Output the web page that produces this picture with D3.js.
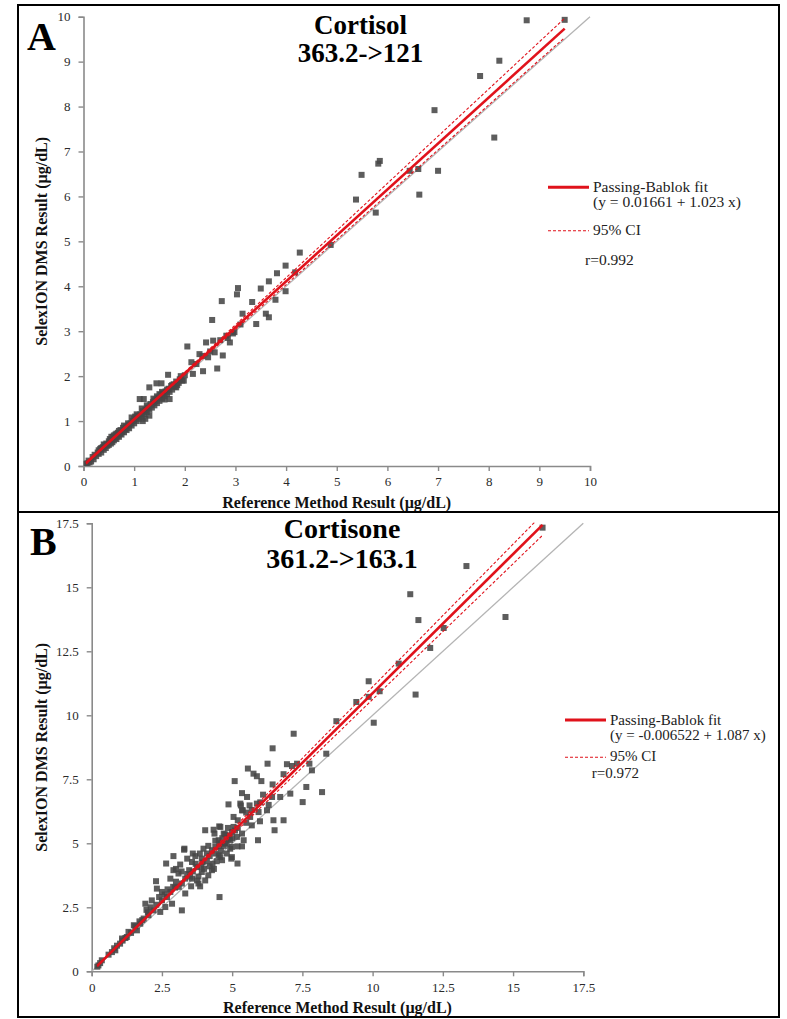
<!DOCTYPE html>
<html>
<head>
<meta charset="utf-8">
<script src="https://cdn.jsdelivr.net/npm/d3@7"></script>
<style>
  html, body { margin: 0; padding: 0; background: #fff; }
  svg { display: block; }
  text { font-family: "Liberation Serif", "Times New Roman", serif; }
</style>
</head>
<body>
<svg id="chart" width="787" height="1019"></svg>
<script>
// ---------- DATA ----------
const panelLetters = ["A", "B"];
const titlesA = ["Cortisol", "363.2->121"];
const titlesB = ["Cortisone", "361.2->163.1"];
const xAxisTitle = "Reference Method Result (µg/dL)";
const yAxisTitle = "SelexION DMS Result (µg/dL)";

const ticksA = [0, 1, 2, 3, 4, 5, 6, 7, 8, 9, 10];
const ticksB = [0, 2.5, 5, 7.5, 10, 12.5, 15, 17.5];

// Passing-Bablok fit and 95% CI: [intercept, slope]
const fitA = [0.01661, 1.023];
const ciUpperA = [-0.01, 1.05];
const ciLowerA = [0.035, 1.0];
const fitRangeA = [0.05, 9.5];
const identityRangeA = [0, 10];

const fitB = [-0.006522, 1.087];
const ciUpperB = [-0.04, 1.115];
const ciLowerB = [0.02, 1.06];
const fitRangeB = [0.2, 16.05];
const identityRangeB = [0, 17.5];

const legendA = ["Passing-Bablok fit", "(y = 0.01661 + 1.023 x)", "95% CI", "r=0.992"];
const legendB = ["Passing-Bablok fit", "(y = -0.006522 + 1.087 x)", "95% CI", "r=0.972"];

// Cortisol: [reference, SelexION]
const cortisolPoints = [
  [9.5,9.93],[8.75,9.92],[8.21,9.02],[7.83,8.68],[6.93,7.92],[8.11,7.31],[5.85,6.79],[5.82,6.73],
  [5.49,6.48],[6.44,6.57],[6.61,6.61],[7.0,6.57],[6.63,6.04],[5.38,5.93],[5.77,5.64],[4.88,4.92],
  [4.27,4.75],[3.99,4.46],[3.82,4.29],[4.18,4.31],[3.99,3.89],[3.05,3.96],[3.03,3.82],[2.73,3.67],
  [3.5,3.95],[3.33,3.65],[3.66,4.11],[3.79,3.7],[3.6,3.39],[3.66,3.31],[3.41,3.16],[3.14,3.39],
  [3.1,3.15],[2.54,3.25],[2.05,2.66],[2.64,2.17],[2.36,2.11],[2.75,2.46],[2.16,2.05],[2.42,2.75],
  [2.56,2.79],[2.82,2.9],[2.89,2.75],[2.98,2.98],[2.29,2.49],[2.59,2.53],[2.46,2.42],[2.13,2.31],
  [2.23,2.27],[2.7,2.8],[2.85,2.85],[2.95,2.95],[2.5,2.55],[2.35,2.45],
  [1.67,2.03],[1.3,1.75],[1.44,1.84],[1.54,1.84],[1.11,1.49],[1.19,1.49],[1.7,1.49],[1.83,1.75],
  [1.98,1.9],[1.17,1.0],
  [0.05,0.05],[0.08,0.06],[0.1,0.12],[0.12,0.08],[0.15,0.1],[0.18,0.2],[0.2,0.15],[0.22,0.25],
  [0.25,0.22],[0.28,0.3],[0.3,0.35],[0.3,0.27],[0.33,0.38],[0.35,0.3],[0.38,0.42],[0.4,0.36],
  [0.42,0.46],[0.44,0.4],[0.45,0.5],[0.47,0.45],[0.5,0.55],[0.5,0.47],[0.52,0.6],[0.54,0.5],
  [0.55,0.58],[0.57,0.53],[0.58,0.65],[0.6,0.57],[0.62,0.62],[0.63,0.7],[0.65,0.6],[0.67,0.66],
  [0.68,0.74],[0.7,0.65],[0.72,0.72],[0.73,0.8],[0.75,0.7],[0.77,0.76],[0.78,0.85],[0.8,0.75],
  [0.82,0.82],[0.84,0.88],[0.85,0.8],[0.87,0.86],[0.9,0.92],[0.9,0.84],[0.93,0.95],[0.95,0.9],
  [0.97,1.0],[1.0,0.95],[1.0,1.05],[1.02,1.1],[1.05,1.0],[1.07,1.12],[1.1,1.05],[1.12,1.15],
  [1.15,1.1],[1.17,1.22],[1.2,1.15],[1.22,1.25],[1.25,1.2],[1.27,1.3],[1.3,1.25],[1.32,1.38],
  [1.35,1.3],[1.37,1.42],[1.4,1.35],[1.42,1.48],[1.45,1.4],[1.47,1.52],[1.5,1.45],[1.52,1.58],
  [1.55,1.5],[1.57,1.62],[1.6,1.55],[1.62,1.66],[1.65,1.6],[1.68,1.72],[1.7,1.65],[1.73,1.78],
  [1.75,1.7],[1.78,1.82],[1.8,1.76],[1.83,1.88],[1.85,1.8],[1.9,1.93],[1.95,1.9],[2.0,2.02],
  [1.15,1.28],[1.3,1.12],[0.95,1.08],[1.45,1.55],[1.6,1.48],[0.7,0.78],[0.55,0.65],[1.22,1.05],
  [1.38,1.5],[1.5,1.6],[0.6,0.68],[0.4,0.48],[0.35,0.4],[0.8,0.9],[1.05,1.15],[1.25,1.35],
  [1.4,1.45],[1.55,1.65],[1.65,1.7],[1.75,1.8],[1.88,1.85],[1.92,2.0],[0.65,0.72],[0.88,0.95]
];

// Cortisone: [reference, SelexION]
const cortisonePoints = [
  [16.05,17.33],[13.34,15.83],[11.34,14.73],[14.73,13.84],[11.63,13.72],[12.53,13.41],[12.05,12.63],
  [10.93,12.02],[9.86,11.33],[9.86,10.72],[10.25,10.94],[11.53,10.81],[9.42,10.52],[8.71,9.77],
  [10.04,9.71],[7.19,9.28],[8.35,8.5],[7.31,8.11],[7.13,8.02],[7.75,8.11],[7.84,7.85],[7.64,7.2],
  [8.2,7.0],[7.51,6.61],[7.07,6.94],
  [6.44,8.71],[6.26,8.11],[6.95,8.09],[5.56,7.92],[5.76,7.72],[5.88,7.62],[6.04,7.43],[5.09,7.43],
  [6.83,7.7],[6.44,7.3],[6.71,6.81],[6.42,6.81],[6.24,6.29],[6.47,5.9],[6.83,5.9],[6.51,5.51],
  [5.92,5.12],[5.35,6.96],[5.53,6.81],[4.87,6.52],[5.31,6.48],[5.62,6.48],[5.38,6.29],[5.88,6.55],
  [5.94,6.22],[5.05,6.03],[5.64,6.03],[5.99,5.86],[5.7,5.7],[5.35,5.38],[5.05,5.64],[4.04,5.51],
  [4.58,5.64],[4.75,5.35],[4.37,5.38],[4.93,5.12],[5.41,5.12],[5.19,4.88],[5.35,4.88],[4.93,4.79],
  [4.54,4.89],[4.4,4.86],[3.98,4.79],[3.3,4.79],[2.91,4.5],[3.69,4.5],[4.1,4.6],[4.81,4.6],
  [4.99,4.46],[4.58,4.46],
  [5.29,6.55],[5.35,6.29],[4.34,5.53],[4.54,5.66],[4.7,5.38],[4.99,5.44],[5.17,5.25],[4.87,5.18],
  [4.75,4.99],[4.52,5.12],[4.99,4.86],[5.19,4.21],[4.97,4.4],[4.64,4.34],[4.52,4.53],[4.28,4.73],
  [3.92,4.4],[3.29,4.75],[2.65,4.21],[3.15,4.17],[3.57,4.27],[3.75,4.07],[3.47,3.95],[3.92,3.88],
  [4.28,3.95],[4.04,3.55],[3.8,3.43],[3.57,3.62],[3.09,3.82],[2.91,3.95],[2.8,3.62],[3.21,3.43],
  [3.33,3.62],[3.54,3.32],[3.86,3.32],[2.29,3.52],[2.32,3.23],[2.97,3.27],[2.8,3.1],[3.33,3.04],
  [4.55,2.9],[3.21,2.38],[2.68,2.9],[2.5,2.77],[2.86,2.64],[2.62,2.51],[2.14,2.77],[2.44,2.32],
  [1.91,2.64],[2.2,2.38],[2.02,2.19],[1.85,2.06],[1.73,1.86],[1.55,1.76],[1.61,1.6],[1.31,1.54],
  [1.25,1.34],[1.08,1.28],[1.01,1.08],[0.84,0.82],[0.72,0.75],[0.36,0.43],[0.24,0.23],
  [3.0,3.5],[3.1,3.3],[3.4,3.8],[3.6,3.9],[3.7,4.2],[3.9,4.1],[4.1,4.3],[4.2,4.5],[4.3,4.2],
  [4.4,4.6],[4.6,4.7],[4.7,4.9],[4.8,5.0],[2.6,3.0],[2.7,3.2],[2.4,2.9],[2.3,2.6],[2.0,2.3],
  [1.8,2.0],[1.4,1.5],[1.2,1.3],[0.9,1.0],[0.6,0.65],[0.3,0.32],[0.2,0.18],[3.5,3.7],[3.8,3.7],
  [4.0,4.0],[4.2,4.1],[4.45,4.3],[4.6,5.0],[4.9,5.3],[5.1,5.5],[5.5,5.8],[5.2,5.6],[3.2,3.9],
  [3.4,4.4],[2.9,3.3],[2.5,3.1],[3.6,4.6],[3.0,4.0],[3.85,4.6],[4.15,4.9],[4.4,5.1],[5.5,6.2],
  [5.7,6.3],[6.0,6.6],[6.1,6.9],[6.3,6.5],[5.2,5.9],[5.0,5.2],[4.85,5.6],[4.65,5.2],[3.75,3.55],
  [4.15,3.75],[4.35,4.0],[3.95,4.25],[2.1,2.5],[1.95,2.4],[1.7,1.95],[1.5,1.8],[1.1,1.2],[0.8,0.9]
];

// ---------- DRAWING ----------
const svg = d3.select("#chart");
const RED = "#e0121b";
const AXIS = "#8a8a8a";
const SERIF = "'Liberation Serif', 'Times New Roman', serif";

function drawPanel(cfg) {
  const g = svg.append("g");
  const x = d3.scaleLinear().domain(cfg.domain).range(cfg.xRange);
  const y = d3.scaleLinear().domain(cfg.domain).range(cfg.yRange);

  // border
  g.append("rect").attr("x", cfg.box[0]).attr("y", cfg.box[1])
    .attr("width", cfg.box[2]).attr("height", cfg.box[3])
    .attr("fill", "none").attr("stroke", "#000").attr("stroke-width", 2);

  const clipId = "clip" + cfg.letter;
  g.append("clipPath").attr("id", clipId).append("rect")
    .attr("x", cfg.xRange[0]).attr("y", cfg.yRange[1] - 1)
    .attr("width", cfg.xRange[1] - cfg.xRange[0] + 2)
    .attr("height", cfg.yRange[0] - cfg.yRange[1] + 1);

  // axes
  const xa = g.append("g").attr("transform", `translate(0,${cfg.yRange[0]})`)
    .call(d3.axisBottom(x).tickValues(cfg.ticks).tickSize(5).tickPadding(6).tickFormat(d => d));
  const ya = g.append("g").attr("transform", `translate(${cfg.xRange[0]},0)`)
    .call(d3.axisLeft(y).tickValues(cfg.ticks).tickSize(5).tickPadding(8).tickFormat(d => d));
  [xa, ya].forEach(a => {
    a.attr("font-family", SERIF).attr("font-size", 13);
    a.select(".domain").attr("stroke", AXIS).attr("stroke-width", 1.6);
    a.selectAll(".tick line").attr("stroke", AXIS).attr("stroke-width", 1.4);
    a.selectAll(".tick text").attr("fill", "#2a2a2a")
      .style("font-family", SERIF).style("font-size", "13px");
  });

  const plot = g.append("g").attr("clip-path", `url(#${clipId})`);

  // identity line
  plot.append("line")
    .attr("x1", x(cfg.identity[0])).attr("y1", y(cfg.identity[0]))
    .attr("x2", x(cfg.identity[1])).attr("y2", y(cfg.identity[1]))
    .attr("stroke", "#b4b4b4").attr("stroke-width", 1.3);

  // points
  plot.selectAll("rect.pt").data(cfg.points).enter().append("rect")
    .attr("class", "pt")
    .attr("x", d => x(d[0]) - 3).attr("y", d => y(d[1]) - 3)
    .attr("width", 6).attr("height", 6)
    .attr("fill", "#474747").attr("fill-opacity", 0.88);

  const lineOf = (p) => d3.line()
    .x(d => x(d)).y(d => y(p[0] + p[1] * d))(cfg.fitRange);

  plot.append("path").attr("d", lineOf(cfg.ciU)).attr("fill", "none")
    .attr("stroke", RED).attr("stroke-width", 1.1).attr("stroke-dasharray", "3,2");
  plot.append("path").attr("d", lineOf(cfg.ciL)).attr("fill", "none")
    .attr("stroke", RED).attr("stroke-width", 1.1).attr("stroke-dasharray", "3,2");
  plot.append("path").attr("d", lineOf(cfg.fit)).attr("fill", "none")
    .attr("stroke", RED).attr("stroke-width", 2.6);

  // panel letter
  g.append("text").attr("x", cfg.letterPos[0]).attr("y", cfg.letterPos[1])
    .attr("font-weight", "bold").attr("font-size", 40).attr("fill", "#000").text(cfg.letter);

  // titles
  cfg.titles.forEach((t, i) => {
    g.append("text").attr("x", cfg.titlePos[0]).attr("y", cfg.titlePos[1] + i * cfg.titleGap)
      .attr("text-anchor", "middle").attr("font-weight", "bold")
      .attr("font-size", cfg.titleSize).attr("fill", "#000").text(t);
  });

  // axis titles
  g.append("text")
    .attr("x", (cfg.xRange[0] + cfg.xRange[1]) / 2).attr("y", cfg.xTitleY)
    .attr("text-anchor", "middle").attr("font-weight", "bold").attr("font-size", 16)
    .attr("fill", "#111").text(xAxisTitle);
  g.append("text")
    .attr("transform", `translate(${cfg.yTitleX},${(cfg.yRange[0] + cfg.yRange[1]) / 2}) rotate(-90)`)
    .attr("text-anchor", "middle").attr("font-weight", "bold").attr("font-size", 16)
    .attr("fill", "#111").text(yAxisTitle);

  // legend
  const L = cfg.legendPos; // [lineX, firstY]
  const fs = cfg.legendSize;
  const lg = g.append("g");
  lg.append("line").attr("x1", L[0]).attr("x2", L[0] + 41)
    .attr("y1", L[1]).attr("y2", L[1]).attr("stroke", RED).attr("stroke-width", 3);
  lg.append("text").attr("x", L[0] + 45).attr("y", L[1] + 4.5)
    .attr("font-size", fs).attr("fill", "#222").text(cfg.legend[0]);
  lg.append("text").attr("x", L[0] + 45).attr("y", L[1] + cfg.legendGaps[0])
    .attr("font-size", fs).attr("fill", "#222").text(cfg.legend[1]);
  lg.append("line").attr("x1", L[0]).attr("x2", L[0] + 41)
    .attr("y1", L[1] + cfg.legendGaps[1]).attr("y2", L[1] + cfg.legendGaps[1])
    .attr("stroke", RED).attr("stroke-width", 1.1).attr("stroke-dasharray", "3,2");
  lg.append("text").attr("x", L[0] + 45).attr("y", L[1] + cfg.legendGaps[1] + cfg.ciTextDy)
    .attr("font-size", fs).attr("fill", "#222").text(cfg.legend[2]);
  lg.append("text").attr("x", cfg.rPos[0]).attr("y", cfg.rPos[1])
    .attr("font-size", fs).attr("fill", "#222").text(cfg.legend[3]);
}

drawPanel({
  letter: panelLetters[0], titles: titlesA, domain: [0, 10], ticks: ticksA,
  xRange: [83.5, 590], yRange: [466, 16.7], box: [18, 5, 761, 507],
  points: cortisolPoints, fit: fitA, ciU: ciUpperA, ciL: ciLowerA,
  fitRange: fitRangeA, identity: identityRangeA,
  letterPos: [27, 50], titlePos: [360.5, 33.5], titleGap: 28, titleSize: 27,
  xTitleY: 507.5, yTitleX: 47,
  legend: legendA, legendSize: 15.5, legendPos: [548, 187.3], legendGaps: [19.5, 43.5],
  ciTextDy: 4.5, rPos: [585, 265]
});

drawPanel({
  letter: panelLetters[1], titles: titlesB, domain: [0, 17.5], ticks: ticksB,
  xRange: [91.7, 583.3], yRange: [971.3, 523.3], box: [18, 512, 761, 505],
  points: cortisonePoints, fit: fitB, ciU: ciUpperB, ciL: ciLowerB,
  fitRange: fitRangeB, identity: identityRangeB,
  letterPos: [30, 555], titlePos: [342, 538], titleGap: 29.5, titleSize: 28,
  xTitleY: 1013, yTitleX: 47,
  legend: legendB, legendSize: 15, legendPos: [565, 720], legendGaps: [20, 37.3],
  ciTextDy: 3.2, rPos: [591.7, 777.5]
});
</script>
</body>
</html>
